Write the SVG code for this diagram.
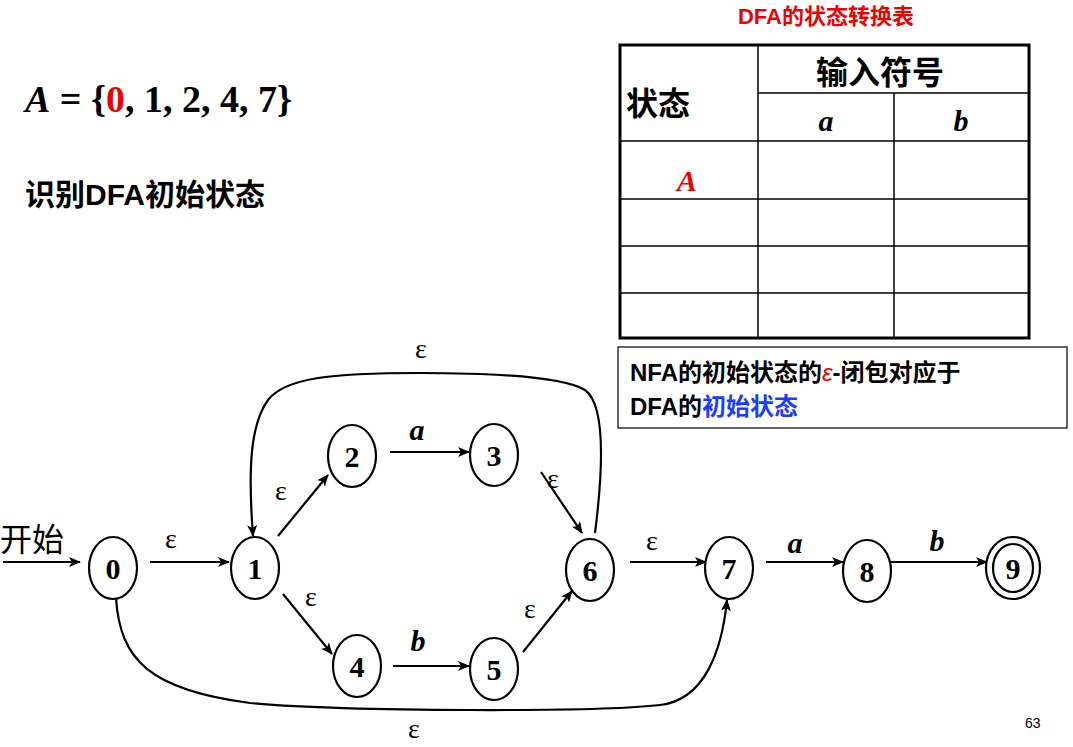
<svg xmlns="http://www.w3.org/2000/svg" width="1073" height="747" viewBox="0 0 1073 747">
<style>
.n ellipse{fill:#fff;stroke:#000;stroke-width:2.2}
.n text{font-family:"Liberation Serif",serif;font-weight:bold;font-size:30px;text-anchor:middle}
.e{fill:none;stroke:#000;stroke-width:2.2}
.lb{font-family:"Liberation Serif",serif;font-size:28px;text-anchor:middle}
.it{font-family:"Liberation Serif",serif;font-size:30px;font-style:italic;font-weight:bold;text-anchor:middle}
.cj{font-family:"Liberation Sans","Noto Sans CJK SC",sans-serif;font-weight:bold}
.g{stroke:#000;stroke-width:1.5}
</style>
<defs><marker id="ar" markerWidth="12" markerHeight="10" refX="11" refY="5" orient="auto" markerUnits="userSpaceOnUse"><path d="M0,0 L12,5 L0,10 L3,5 Z"/></marker></defs>
<rect width="1073" height="747" fill="#fff"/>
<text x="25" y="112" font-family="Liberation Serif,serif" font-size="38" font-weight="bold"><tspan font-style="italic">A</tspan> = {<tspan fill="#e00">0</tspan>, 1, 2, 4, 7}</text>
<text x="25" y="205" class="cj" font-size="30">识别DFA初始状态</text>
<text x="826" y="24" class="cj" font-size="22" fill="#e00" text-anchor="middle" font-family="Liberation Serif,Noto Sans CJK SC,serif">DFA的状态转换表</text>
<g id="table">
<rect x="620" y="45" width="409" height="293" fill="none" stroke="#000" stroke-width="3"/>
<line class="g" x1="758" y1="45" x2="758" y2="338"/>
<line class="g" x1="894" y1="93" x2="894" y2="338"/>
<line class="g" x1="758" y1="93" x2="1029" y2="93"/>
<line class="g" x1="620" y1="141" x2="1029" y2="141"/>
<line class="g" x1="620" y1="199" x2="1029" y2="199"/>
<line class="g" x1="620" y1="246" x2="1029" y2="246"/>
<line class="g" x1="620" y1="293" x2="1029" y2="293"/>
<text x="626" y="115" class="cj" font-size="32">状态</text>
<text x="880" y="84" class="cj" font-size="32" text-anchor="middle">输入符号</text>
<text x="826" y="131" class="it">a</text>
<text x="961" y="131" class="it">b</text>
<text x="687" y="191" class="it" fill="#e00" font-weight="normal">A</text>
</g>
<g id="note">
<rect x="618" y="347" width="449" height="81" fill="#fff" stroke="#000" stroke-width="1.2"/>
<text x="630" y="381" font-size="24" class="cj" font-family="Liberation Serif,Noto Sans CJK SC,serif">NFA的初始状态的<tspan fill="#e00" font-weight="normal" font-style="italic">ε</tspan>-闭包对应于</text>
<text x="630" y="415" font-size="24" class="cj" font-family="Liberation Serif,Noto Sans CJK SC,serif">DFA的<tspan fill="#1a3cff">初始状态</tspan></text>
</g>
<text x="0" y="551" font-family="Liberation Serif,Noto Sans CJK SC,serif" font-size="32">开始</text>
<g id="connectors">
<line class="e" x1="3" y1="562" x2="80" y2="562" marker-end="url(#ar)"/>
<line class="e" x1="150" y1="562" x2="229" y2="562" marker-end="url(#ar)"/>
<line class="e" x1="278" y1="536" x2="328" y2="475" marker-end="url(#ar)"/>
<line class="e" x1="390" y1="452" x2="469" y2="452" marker-end="url(#ar)"/>
<line class="e" x1="541" y1="472" x2="582" y2="533" marker-end="url(#ar)"/>
<line class="e" x1="283" y1="594" x2="332" y2="654" marker-end="url(#ar)"/>
<line class="e" x1="393" y1="666" x2="469" y2="666" marker-end="url(#ar)"/>
<line class="e" x1="523" y1="652" x2="572" y2="591" marker-end="url(#ar)"/>
<line class="e" x1="630" y1="562" x2="706" y2="562" marker-end="url(#ar)"/>
<line class="e" x1="766" y1="562" x2="843" y2="562" marker-end="url(#ar)"/>
<line class="e" x1="890" y1="562" x2="987" y2="562" marker-end="url(#ar)"/>
<path class="e" d="M595,533 C603,470 606,405 585,390 C560,375 480,373 420,373 C330,373 285,378 268,400 C250,425 248,470 253,536" marker-end="url(#ar)"/>
<path class="e" d="M116,598 C120,660 150,690 250,703 C350,712 600,712 660,705 C705,700 722,650 727,600" marker-end="url(#ar)"/>
<text class="lb" x="421" y="358">ε</text>
<text class="lb" x="414" y="738">ε</text>
<text class="lb" x="171" y="548">ε</text>
<text class="lb" x="281" y="500">ε</text>
<text class="lb" x="311" y="606">ε</text>
<text class="lb" x="553" y="488">ε</text>
<text class="lb" x="530" y="618">ε</text>
<text class="lb" x="652" y="550">ε</text>
<text class="it" x="417" y="440">a</text>
<text class="it" x="418" y="651">b</text>
<text class="it" x="795" y="553">a</text>
<text class="it" x="937" y="551">b</text>
</g>
<g id="n0" class="n"><ellipse cx="113" cy="568" rx="24" ry="31"/><text x="113" y="579">0</text></g>
<g id="n1" class="n"><ellipse cx="255" cy="568" rx="24" ry="31"/><text x="255" y="579">1</text></g>
<g id="n2" class="n"><ellipse cx="352" cy="456" rx="24" ry="31"/><text x="352" y="467">2</text></g>
<g id="n3" class="n"><ellipse cx="494" cy="455" rx="24" ry="31"/><text x="494" y="466">3</text></g>
<g id="n4" class="n"><ellipse cx="357" cy="666" rx="24" ry="31"/><text x="357" y="677">4</text></g>
<g id="n5" class="n"><ellipse cx="494" cy="669" rx="24" ry="31"/><text x="494" y="680">5</text></g>
<g id="n6" class="n"><ellipse cx="590" cy="570" rx="24" ry="31"/><text x="590" y="581">6</text></g>
<g id="n7" class="n"><ellipse cx="729" cy="568" rx="24" ry="31"/><text x="729" y="579">7</text></g>
<g id="n8" class="n"><ellipse cx="867" cy="571" rx="24" ry="31"/><text x="867" y="582">8</text></g>
<g id="n9" class="n"><ellipse cx="1013" cy="568" rx="27" ry="31"/><ellipse cx="1013" cy="568" rx="20" ry="24"/><text x="1013" y="579">9</text></g>
<text x="1025" y="728" font-family="Liberation Sans,sans-serif" font-size="14">63</text>
</svg>
